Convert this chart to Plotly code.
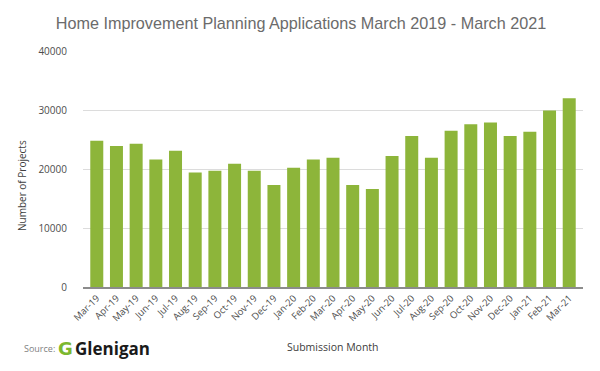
import plotly.graph_objects as go

months = ["Mar-19","Apr-19","May-19","Jun-19","Jul-19","Aug-19","Sep-19","Oct-19","Nov-19","Dec-19",
          "Jan-20","Feb-20","Mar-20","Apr-20","May-20","Jun-20","Jul-20","Aug-20","Sep-20","Oct-20",
          "Nov-20","Dec-20","Jan-21","Feb-21","Mar-21"]
projects = [24800, 23900, 24300, 21600, 23100, 19400, 19700, 20900, 19700, 17300,
            20200, 21600, 21900, 17300, 16600, 22200, 25600, 21900, 26500, 27600,
            27900, 25600, 26300, 29900, 32000]
y_ticks = [0, 10000, 20000, 30000, 40000]

# page body has an 8px margin, so the figure is drawn at (8, 8)
OFF = 8
W, H = 600 - OFF, 371 - OFF
L, T = 83 - OFF, 51 - OFF
R = W - (583 - OFF)
B = H - (287 - OFF)
pw, ph = W - L - R, H - T - B

def px(x):
    return (x - OFF - L) / pw

def py(y):
    return (H - B - (y - OFF)) / ph

fig = go.Figure(go.Bar(x=months, y=projects, marker=dict(color="#8db53a", line=dict(width=0)),
                       hoverinfo="x+y"))

fig.update_layout(
    width=W, height=H,
    paper_bgcolor="white", plot_bgcolor="white",
    margin=dict(l=L, r=R, t=T, b=B, autoexpand=False),
    bargap=0.34,
    showlegend=False,
    title=dict(text="Home Improvement Planning Applications March 2019 - March 2021",
               x=(301 - OFF) / W, xanchor="center", xref="container",
               y=1 - (23 - OFF) / H, yanchor="middle",
               font=dict(family="Liberation Sans, Arial", size=16.2, color="#6b6b6b")),
    xaxis=dict(range=[-0.7, len(months) - 0.3],
               tickangle=-45, tickfont=dict(family="Open Sans", size=9.5, color="#4d4d4d"),
               showline=True, linecolor="#8c8c8c", linewidth=2, showgrid=False, ticks="",
               automargin=False),
    yaxis=dict(range=[0, 40000], tickvals=y_ticks, tickformat="d",
               tickfont=dict(family="Open Sans", size=10, color="#4d4d4d"),
               gridcolor="#dcdcdc", gridwidth=1, zeroline=False, showline=False,
               ticks="", ticklen=0, ticklabelstandoff=15, automargin=False),
)

fig.add_annotation(text="Number of Projects", xref="paper", yref="paper",
                   x=px(22), y=py(186), xanchor="center", yanchor="middle", textangle=-90,
                   showarrow=False, font=dict(family="Open Sans", size=10, color="#404040"))
fig.add_annotation(text="Submission Month", xref="paper", yref="paper",
                   x=px(333), y=py(347), xanchor="center", yanchor="middle",
                   showarrow=False, font=dict(family="Open Sans", size=10.5, color="#404040"))
fig.add_annotation(text="Source:", xref="paper", yref="paper",
                   x=px(22), y=py(348), xanchor="left", yanchor="middle",
                   showarrow=False, font=dict(family="Open Sans", size=9, color="#7f7f7f"))
fig.add_annotation(text="<b>G</b>", xref="paper", yref="paper",
                   x=px(56), y=py(348), xanchor="left", yanchor="middle",
                   showarrow=False, font=dict(family="DejaVu Sans", size=18, color="#7cb82f"))
fig.add_annotation(text="<b>Glenigan</b>", xref="paper", yref="paper",
                   x=px(73), y=py(348), xanchor="left", yanchor="middle",
                   showarrow=False, font=dict(family="Open Sans", size=17, color="#1a1a1a"))

fig.write_html("out.html")
